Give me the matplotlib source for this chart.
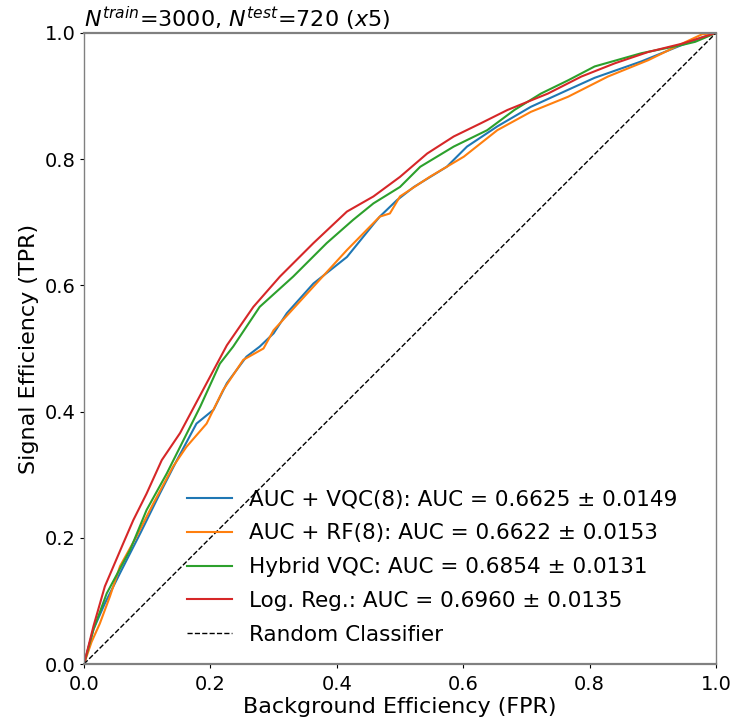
import numpy as np
import matplotlib.pyplot as plt

# ROC krive (FPR, TPR) ocitane sa slike
vqc_fpr = [0.0, 0.015, 0.033, 0.057, 0.089, 0.120, 0.147, 0.178, 0.205, 0.226, 0.257, 0.278, 0.300,
           0.321, 0.363, 0.416, 0.458, 0.468, 0.495, 0.522, 0.574, 0.606, 0.654, 0.707, 0.766,
           0.808, 0.882, 0.946, 0.978, 1.0]
vqc_tpr = [0.0, 0.055, 0.096, 0.144, 0.207, 0.270, 0.323, 0.381, 0.403, 0.445, 0.487, 0.503, 0.524,
           0.556, 0.603, 0.645, 0.697, 0.709, 0.735, 0.756, 0.788, 0.820, 0.852, 0.883, 0.910,
           0.929, 0.955, 0.981, 0.993, 1.0]

rf_fpr = [0.0, 0.012, 0.025, 0.041, 0.057, 0.083, 0.110, 0.141, 0.162, 0.194, 0.220, 0.252, 0.284,
          0.300, 0.363, 0.416, 0.468, 0.484, 0.500, 0.547, 0.601, 0.654, 0.707, 0.766, 0.829,
          0.893, 0.946, 0.978, 1.0]
rf_tpr = [0.0, 0.035, 0.064, 0.107, 0.155, 0.202, 0.255, 0.313, 0.344, 0.381, 0.434, 0.482, 0.500,
          0.529, 0.598, 0.656, 0.709, 0.714, 0.741, 0.772, 0.804, 0.846, 0.875, 0.899, 0.931,
          0.957, 0.983, 0.998, 1.0]

hyb_fpr = [0.0, 0.015, 0.036, 0.073, 0.099, 0.131, 0.152, 0.184, 0.215, 0.236, 0.278, 0.331,
           0.384, 0.426, 0.458, 0.500, 0.532, 0.585, 0.638, 0.681, 0.723, 0.766, 0.808,
           0.882, 0.946, 0.967, 1.0]
hyb_tpr = [0.0, 0.055, 0.112, 0.181, 0.244, 0.302, 0.344, 0.408, 0.476, 0.503, 0.566, 0.614,
           0.667, 0.704, 0.730, 0.756, 0.788, 0.820, 0.846, 0.878, 0.904, 0.925, 0.947,
           0.968, 0.981, 0.986, 1.0]

lr_fpr = [0.0, 0.015, 0.033, 0.062, 0.078, 0.099, 0.123, 0.152, 0.194, 0.226, 0.268, 0.310,
          0.363, 0.416, 0.458, 0.500, 0.543, 0.585, 0.628, 0.670, 0.734, 0.787, 0.840,
          0.893, 0.946, 1.0]
lr_tpr = [0.0, 0.060, 0.123, 0.191, 0.228, 0.270, 0.323, 0.366, 0.445, 0.505, 0.566, 0.614,
          0.667, 0.717, 0.741, 0.772, 0.809, 0.836, 0.857, 0.878, 0.904, 0.931, 0.952,
          0.970, 0.983, 1.0]

oznake = ["AUC + VQC(8): AUC = 0.6625 ± 0.0149",
          "AUC + RF(8): AUC = 0.6622 ± 0.0153",
          "Hybrid VQC: AUC = 0.6854 ± 0.0131",
          "Log. Reg.: AUC = 0.6960 ± 0.0135"]
boje = ["#1f77b4", "#ff7f0e", "#2ca02c", "#d62728"]

plt.rcParams['font.family'] = 'DejaVu Sans'
plt.rcParams['mathtext.fontset'] = 'dejavusans'

fig = plt.figure(figsize=(7.31, 7.19), dpi=100)
ax = fig.add_axes([84/731, 55/719, 632/731, 631/719])

krive = [(vqc_fpr, vqc_tpr), (rf_fpr, rf_tpr), (hyb_fpr, hyb_tpr), (lr_fpr, lr_tpr)]
for (fpr, tpr), lab, c in zip(krive, oznake, boje):
    ax.plot(fpr, tpr, color=c, lw=1.5, label=lab)
ax.plot([0, 1], [0, 1], 'k--', lw=1.0, label="Random Classifier")

ax.set_xlim(0, 1)
ax.set_ylim(0, 1)
ax.set_xticks([0, 0.2, 0.4, 0.6, 0.8, 1.0])
ax.set_yticks([0, 0.2, 0.4, 0.6, 0.8, 1.0])
ax.tick_params(axis='x', length=3, labelsize=14, pad=5)
ax.tick_params(axis='y', length=3, labelsize=14, pad=3)
for s in ['top', 'bottom']:
    ax.spines[s].set_color('#808080')
    ax.spines[s].set_linewidth(1.6)
for s in ['left', 'right']:
    ax.spines[s].set_color('#808080')
    ax.spines[s].set_linewidth(1.0)

ax.set_xlabel("Background Efficiency (FPR)", fontsize=16, labelpad=2)
ax.set_ylabel("Signal Efficiency (TPR)", fontsize=16, labelpad=4)
ax.set_title("$N^{train}$=3000, $N^{test}$=720 ($x$5)", loc='left', fontsize=16, pad=3)

ax.legend(loc='lower right', frameon=False, fontsize=15.5, handlelength=2.1,
          bbox_to_anchor=(0.97, 0.0), borderaxespad=0.5, labelspacing=0.64)

fig.savefig("out.png", dpi=100)
